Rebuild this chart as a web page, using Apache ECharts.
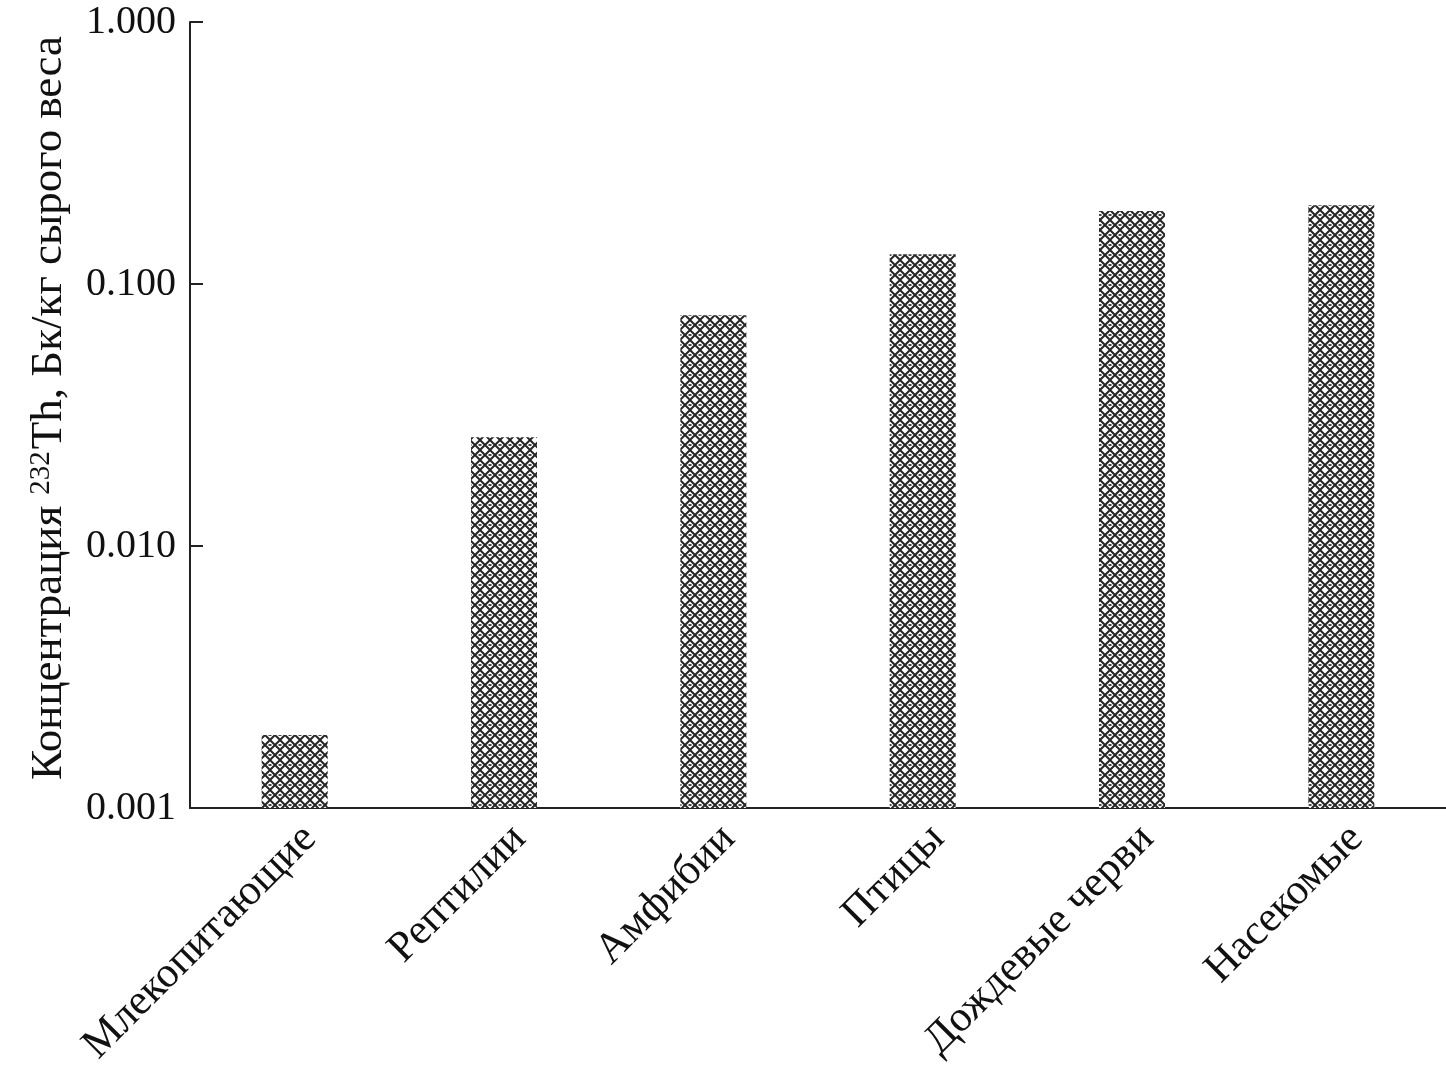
<!DOCTYPE html>
<html>
<head>
<meta charset="utf-8">
<script src="https://cdn.jsdelivr.net/npm/echarts@6/dist/echarts.min.js"></script>
<style>
  html, body { margin: 0; padding: 0; background: #fff; }
  #main { width: 1446px; height: 1077px; }
</style>
</head>
<body>
<div id="main"></div>
<script>
// категории (группы организмов)
const categories = [
  "Млекопитающие",
  "Рептилии",
  "Амфибии",
  "Птицы",
  "Дождевые черви",
  "Насекомые"
];
// концентрация 232Th, Бк/кг сырого веса
const thValues = [0.0019, 0.026, 0.076, 0.13, 0.19, 0.2];
const yMin = 0.001;
const yMax = 1;

// штриховка столбцов (сетка + точки)
function makeHatch() {
  const c = document.createElement("canvas");
  c.width = 10;
  c.height = 10;
  const ctx = c.getContext("2d");
  ctx.fillStyle = "#ffffff";
  ctx.fillRect(0, 0, 10, 10);
  ctx.strokeStyle = "#262626";
  ctx.lineWidth = 2;
  ctx.beginPath();
  ctx.moveTo(0, 0);
  ctx.lineTo(10, 10);
  ctx.moveTo(10, 0);
  ctx.lineTo(0, 10);
  ctx.stroke();
  ctx.fillStyle = "#444";
  ctx.fillRect(0, 4, 1.5, 2);
  ctx.fillRect(8.5, 4, 1.5, 2);
  return c;
}

const font = "Liberation Serif";
const chart = echarts.init(document.getElementById("main"));
const option = {
  backgroundColor: "#fff",
  animation: false,
  grid: {
    left: 190,
    right: -3,
    top: 22,
    bottom: 269
  },
  xAxis: {
    type: "category",
    data: categories,
    axisLine: { lineStyle: { color: "#222", width: 2 } },
    axisTick: { show: false },
    axisLabel: {
      interval: 0,
      rotate: 45,
      margin: 9,
      verticalAlign: "top",
      color: "#111",
      fontFamily: font,
      fontSize: 43
    }
  },
  yAxis: {
    type: "log",
    logBase: 10,
    min: yMin,
    max: yMax,
    startValue: yMin,
    name: "Концентрация {sup|232}Th, Бк/кг сырого веса",
    nameLocation: "middle",
    nameRotate: 90,
    nameGap: 118,
    nameTextStyle: {
      color: "#111",
      fontFamily: font,
      fontSize: 45,
      padding: [0, 0, 0, 14],
      rich: {
        sup: {
          fontFamily: font,
          fontSize: 29,
          color: "#111",
          verticalAlign: "top",
          padding: [0, 2, 16, 0]
        }
      }
    },
    splitLine: { show: false },
    axisLine: { show: true, lineStyle: { color: "#222", width: 2 } },
    axisTick: {
      show: true,
      inside: true,
      length: 13,
      lineStyle: { color: "#222", width: 2 }
    },
    minorTick: { show: false },
    axisLabel: {
      margin: 14,
      color: "#111",
      fontFamily: font,
      fontSize: 40,
      formatter: v => Number(v).toFixed(3)
    }
  },
  series: [
    {
      type: "bar",
      data: thValues,
      barWidth: 66,
      itemStyle: {
        color: { image: makeHatch(), repeat: "repeat" }
      }
    }
  ]
};
chart.setOption(option);
</script>
</body>
</html>
